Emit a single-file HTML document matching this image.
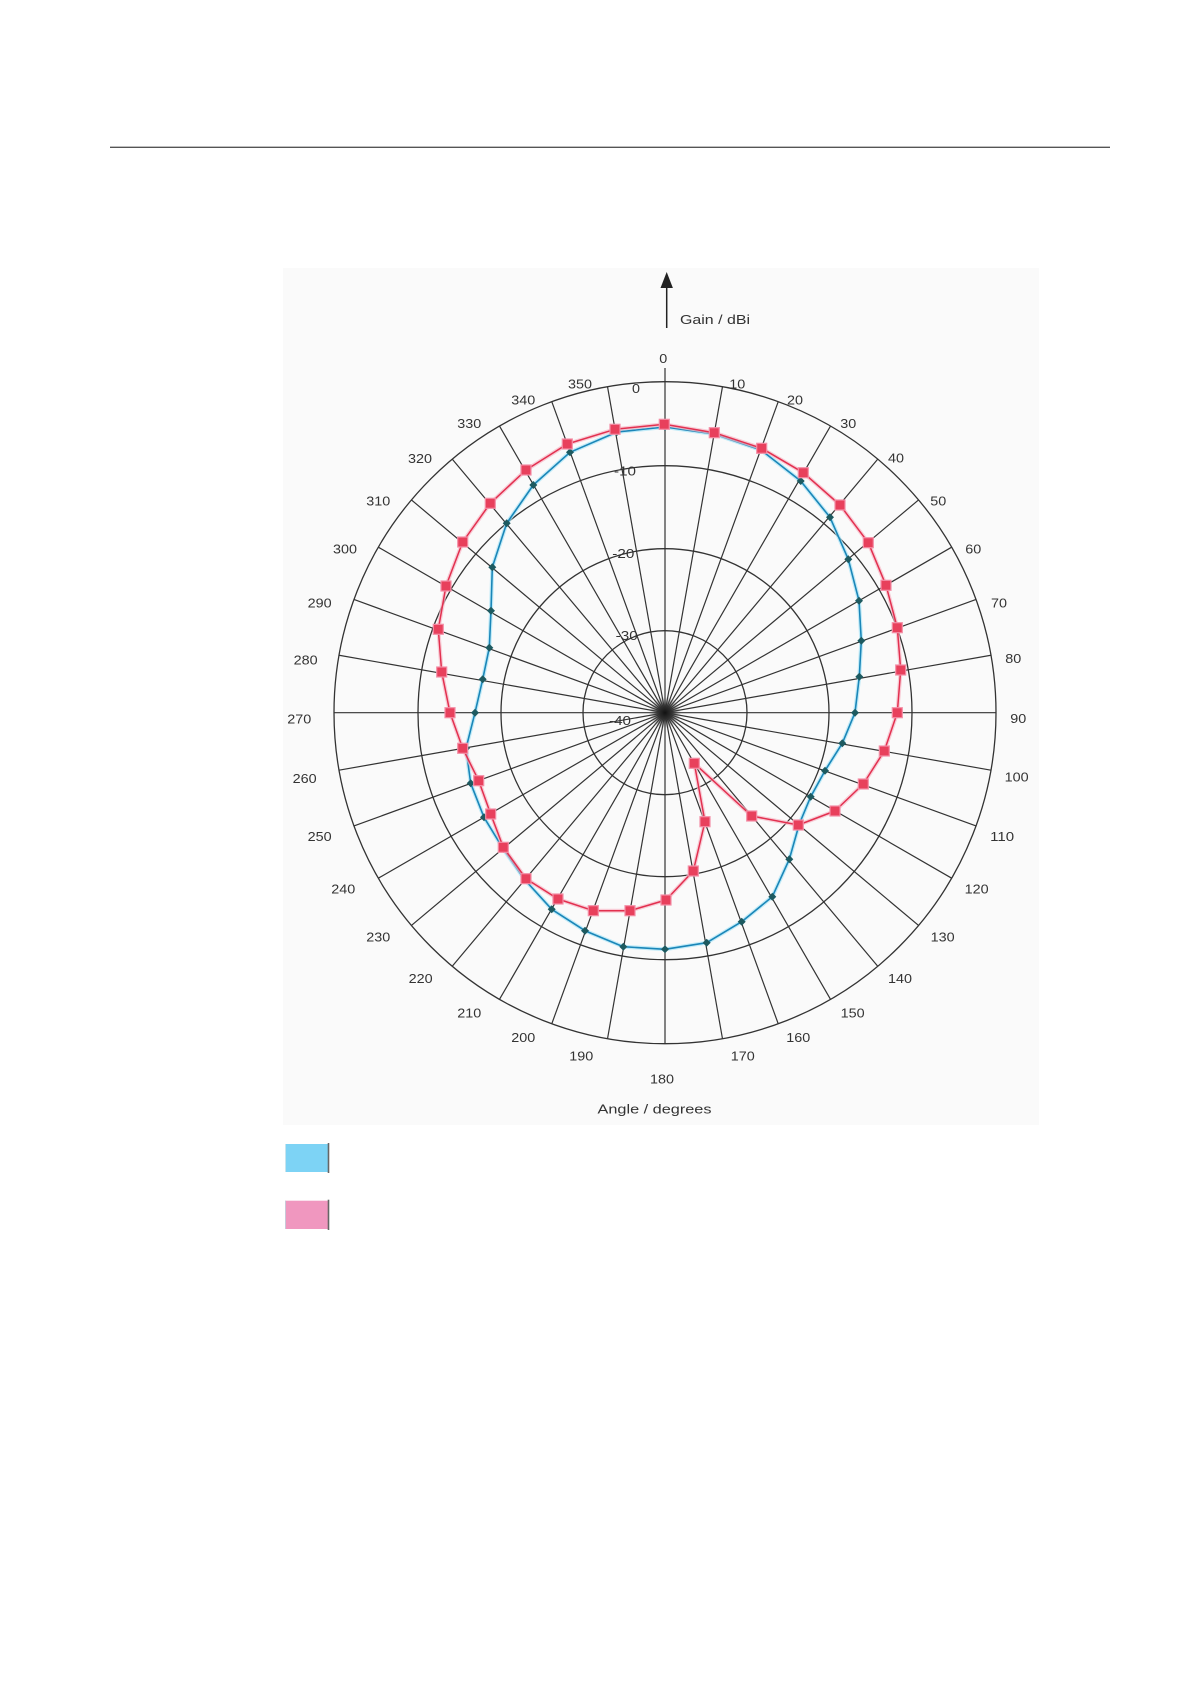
<!DOCTYPE html>
<html>
<head>
<meta charset="utf-8">
<style>
  html,body{margin:0;padding:0;background:#ffffff;}
  body{width:1190px;height:1684px;position:relative;overflow:hidden;}
  svg{position:absolute;left:0;top:0;}
  text{font-family:"Liberation Sans",Arial,sans-serif;fill:#333333;}
</style>
</head>
<body>
<svg width="1190" height="1684" viewBox="0 0 1190 1684" xmlns="http://www.w3.org/2000/svg">
  <defs>
    <radialGradient id="blob" cx="0.5" cy="0.5" r="0.5">
      <stop offset="0" stop-color="#111" stop-opacity="1"/>
      <stop offset="0.5" stop-color="#333" stop-opacity="0.8"/>
      <stop offset="1" stop-color="#666" stop-opacity="0"/>
    </radialGradient>
  </defs>

  <!-- top rule -->
  <line x1="110" y1="147.3" x2="1110" y2="147.3" stroke="#555" stroke-width="1.3"/>

  <!-- faint chart background -->
  <rect x="283" y="268" width="756" height="857" fill="#fafafa"/>

  <!-- rings -->
  <g fill="none" stroke="#333" stroke-width="1.3">
    <circle cx="665" cy="712.7" r="331"/>
    <circle cx="665" cy="712.7" r="247"/>
    <circle cx="665" cy="712.7" r="164"/>
    <circle cx="665" cy="712.7" r="82"/>
  </g>

  <!-- spokes -->
  <g stroke="#333" stroke-width="1.2">
    <line x1="665" y1="368" x2="665" y2="1043.7"/>
    <line x1="665" y1="381.7" x2="665" y2="1043.7" transform="rotate(10 665 712.7)"/>
    <line x1="665" y1="381.7" x2="665" y2="1043.7" transform="rotate(20 665 712.7)"/>
    <line x1="665" y1="381.7" x2="665" y2="1043.7" transform="rotate(30 665 712.7)"/>
    <line x1="665" y1="381.7" x2="665" y2="1043.7" transform="rotate(40 665 712.7)"/>
    <line x1="665" y1="381.7" x2="665" y2="1043.7" transform="rotate(50 665 712.7)"/>
    <line x1="665" y1="381.7" x2="665" y2="1043.7" transform="rotate(60 665 712.7)"/>
    <line x1="665" y1="381.7" x2="665" y2="1043.7" transform="rotate(70 665 712.7)"/>
    <line x1="665" y1="381.7" x2="665" y2="1043.7" transform="rotate(80 665 712.7)"/>
    <line x1="665" y1="381.7" x2="665" y2="1043.7" transform="rotate(90 665 712.7)"/>
    <line x1="665" y1="381.7" x2="665" y2="1043.7" transform="rotate(100 665 712.7)"/>
    <line x1="665" y1="381.7" x2="665" y2="1043.7" transform="rotate(110 665 712.7)"/>
    <line x1="665" y1="381.7" x2="665" y2="1043.7" transform="rotate(120 665 712.7)"/>
    <line x1="665" y1="381.7" x2="665" y2="1043.7" transform="rotate(130 665 712.7)"/>
    <line x1="665" y1="381.7" x2="665" y2="1043.7" transform="rotate(140 665 712.7)"/>
    <line x1="665" y1="381.7" x2="665" y2="1043.7" transform="rotate(150 665 712.7)"/>
    <line x1="665" y1="381.7" x2="665" y2="1043.7" transform="rotate(160 665 712.7)"/>
    <line x1="665" y1="381.7" x2="665" y2="1043.7" transform="rotate(170 665 712.7)"/>
  </g>

  <!-- center blob -->
  <circle cx="665" cy="712.7" r="16" fill="url(#blob)"/>

  <!-- radial dB labels -->
  <g font-size="13" text-anchor="middle">
    <text x="636" y="393" textLength="8" lengthAdjust="spacingAndGlyphs">0</text>
    <text x="625" y="475.5" textLength="22" lengthAdjust="spacingAndGlyphs">-10</text>
    <text x="623.3" y="558" textLength="22" lengthAdjust="spacingAndGlyphs">-20</text>
    <text x="626.7" y="639.8" textLength="22" lengthAdjust="spacingAndGlyphs">-30</text>
    <text x="620" y="724.8" textLength="22" lengthAdjust="spacingAndGlyphs">-40</text>
  </g>

  <!-- angle labels -->
  <g font-size="13" text-anchor="middle">
    <text x="663.3" y="363" textLength="8" lengthAdjust="spacingAndGlyphs">0</text>
    <text x="737.3" y="388.7" textLength="16" lengthAdjust="spacingAndGlyphs">10</text>
    <text x="795" y="404.7" textLength="16" lengthAdjust="spacingAndGlyphs">20</text>
    <text x="848.3" y="428" textLength="16" lengthAdjust="spacingAndGlyphs">30</text>
    <text x="896" y="462.4" textLength="16" lengthAdjust="spacingAndGlyphs">40</text>
    <text x="938.3" y="505.4" textLength="16" lengthAdjust="spacingAndGlyphs">50</text>
    <text x="973.3" y="553.7" textLength="16" lengthAdjust="spacingAndGlyphs">60</text>
    <text x="999" y="607.5" textLength="16" lengthAdjust="spacingAndGlyphs">70</text>
    <text x="1013.3" y="663" textLength="16" lengthAdjust="spacingAndGlyphs">80</text>
    <text x="1018.3" y="723" textLength="16" lengthAdjust="spacingAndGlyphs">90</text>
    <text x="1016.7" y="781.4" textLength="24" lengthAdjust="spacingAndGlyphs">100</text>
    <text x="1002.2" y="841.1" textLength="24" lengthAdjust="spacingAndGlyphs">110</text>
    <text x="976.7" y="893.7" textLength="24" lengthAdjust="spacingAndGlyphs">120</text>
    <text x="942.7" y="941.4" textLength="24" lengthAdjust="spacingAndGlyphs">130</text>
    <text x="900" y="983" textLength="24" lengthAdjust="spacingAndGlyphs">140</text>
    <text x="852.7" y="1017.4" textLength="24" lengthAdjust="spacingAndGlyphs">150</text>
    <text x="798.3" y="1042" textLength="24" lengthAdjust="spacingAndGlyphs">160</text>
    <text x="742.8" y="1060.7" textLength="24" lengthAdjust="spacingAndGlyphs">170</text>
    <text x="662" y="1083.4" textLength="24" lengthAdjust="spacingAndGlyphs">180</text>
    <text x="581.3" y="1060.7" textLength="24" lengthAdjust="spacingAndGlyphs">190</text>
    <text x="523.3" y="1042" textLength="24" lengthAdjust="spacingAndGlyphs">200</text>
    <text x="469.3" y="1017.4" textLength="24" lengthAdjust="spacingAndGlyphs">210</text>
    <text x="420.7" y="983" textLength="24" lengthAdjust="spacingAndGlyphs">220</text>
    <text x="378.3" y="941.4" textLength="24" lengthAdjust="spacingAndGlyphs">230</text>
    <text x="343.3" y="893.7" textLength="24" lengthAdjust="spacingAndGlyphs">240</text>
    <text x="319.7" y="841.1" textLength="24" lengthAdjust="spacingAndGlyphs">250</text>
    <text x="304.6" y="783" textLength="24" lengthAdjust="spacingAndGlyphs">260</text>
    <text x="299.3" y="723.7" textLength="24" lengthAdjust="spacingAndGlyphs">270</text>
    <text x="305.7" y="664.7" textLength="24" lengthAdjust="spacingAndGlyphs">280</text>
    <text x="319.7" y="607.5" textLength="24" lengthAdjust="spacingAndGlyphs">290</text>
    <text x="345" y="553.7" textLength="24" lengthAdjust="spacingAndGlyphs">300</text>
    <text x="378.3" y="505.4" textLength="24" lengthAdjust="spacingAndGlyphs">310</text>
    <text x="420" y="463" textLength="24" lengthAdjust="spacingAndGlyphs">320</text>
    <text x="469.3" y="428" textLength="24" lengthAdjust="spacingAndGlyphs">330</text>
    <text x="523.3" y="404.7" textLength="24" lengthAdjust="spacingAndGlyphs">340</text>
    <text x="580" y="388.7" textLength="24" lengthAdjust="spacingAndGlyphs">350</text>
  </g>

  <!-- axis titles -->
  <line x1="666.7" y1="284" x2="666.7" y2="328" stroke="#222" stroke-width="1.5"/>
  <polygon points="660.5,288 672.9,288 666.7,272" fill="#222"/>
  <text x="680" y="324" font-size="13" textLength="70" lengthAdjust="spacingAndGlyphs">Gain / dBi</text>
  <text x="654.5" y="1113.5" font-size="13" text-anchor="middle" textLength="114" lengthAdjust="spacingAndGlyphs">Angle / degrees</text>

  <!-- teal series -->
  <polygon fill="none" stroke="#a8e4f6" stroke-width="4" stroke-linejoin="round" opacity="0.7"
    points="665,427 714,434 761,450 800.7,481 830,517.3 848.3,559.3 859,600.7 861.3,640.7 859.3,676.7 855,712.7 842.3,743.3 825,770.7 810.7,796.7 799.3,824 789.3,859.3 772.3,896.7 741.7,921.7 706.7,942.7 665,949.3 623.3,946.7 585,930.7 551.7,909.3 525,880 503.3,849 484,817.3 470.7,783.3 466,748.3 475,712.7 482.7,679.3 489.3,647.7 491,610.7 492.3,567.3 506.7,523.3 533.3,485 570,452.3 617,432"/>
  <polygon fill="none" stroke="#1a86b8" stroke-width="1.6" stroke-linejoin="round"
    points="665,427 714,434 761,450 800.7,481 830,517.3 848.3,559.3 859,600.7 861.3,640.7 859.3,676.7 855,712.7 842.3,743.3 825,770.7 810.7,796.7 799.3,824 789.3,859.3 772.3,896.7 741.7,921.7 706.7,942.7 665,949.3 623.3,946.7 585,930.7 551.7,909.3 525,880 503.3,849 484,817.3 470.7,783.3 466,748.3 475,712.7 482.7,679.3 489.3,647.7 491,610.7 492.3,567.3 506.7,523.3 533.3,485 570,452.3 617,432"/>
  <g fill="#1d5a60">
    <polygon points="665,423 669,427 665,431 661,427"/>
    <polygon points="714,430 718,434 714,438 710,434"/>
    <polygon points="761,446 765,450 761,454 757,450"/>
    <polygon points="800.7,477 804.7,481 800.7,485 796.7,481"/>
    <polygon points="830,513.3 834,517.3 830,521.3 826,517.3"/>
    <polygon points="848.3,555.3 852.3,559.3 848.3,563.3 844.3,559.3"/>
    <polygon points="859,596.7 863,600.7 859,604.7 855,600.7"/>
    <polygon points="861.3,636.7 865.3,640.7 861.3,644.7 857.3,640.7"/>
    <polygon points="859.3,672.7 863.3,676.7 859.3,680.7 855.3,676.7"/>
    <polygon points="855,708.7 859,712.7 855,716.7 851,712.7"/>
    <polygon points="842.3,739.3 846.3,743.3 842.3,747.3 838.3,743.3"/>
    <polygon points="825,766.7 829,770.7 825,774.7 821,770.7"/>
    <polygon points="810.7,792.7 814.7,796.7 810.7,800.7 806.7,796.7"/>
    <polygon points="799.3,820 803.3,824 799.3,828 795.3,824"/>
    <polygon points="789.3,855.3 793.3,859.3 789.3,863.3 785.3,859.3"/>
    <polygon points="772.3,892.7 776.3,896.7 772.3,900.7 768.3,896.7"/>
    <polygon points="741.7,917.7 745.7,921.7 741.7,925.7 737.7,921.7"/>
    <polygon points="706.7,938.7 710.7,942.7 706.7,946.7 702.7,942.7"/>
    <polygon points="665,945.3 669,949.3 665,953.3 661,949.3"/>
    <polygon points="623.3,942.7 627.3,946.7 623.3,950.7 619.3,946.7"/>
    <polygon points="585,926.7 589,930.7 585,934.7 581,930.7"/>
    <polygon points="551.7,905.3 555.7,909.3 551.7,913.3 547.7,909.3"/>
    <polygon points="525,876 529,880 525,884 521,880"/>
    <polygon points="503.3,845 507.3,849 503.3,853 499.3,849"/>
    <polygon points="484,813.3 488,817.3 484,821.3 480,817.3"/>
    <polygon points="470.7,779.3 474.7,783.3 470.7,787.3 466.7,783.3"/>
    <polygon points="466,744.3 470,748.3 466,752.3 462,748.3"/>
    <polygon points="475,708.7 479,712.7 475,716.7 471,712.7"/>
    <polygon points="482.7,675.3 486.7,679.3 482.7,683.3 478.7,679.3"/>
    <polygon points="489.3,643.7 493.3,647.7 489.3,651.7 485.3,647.7"/>
    <polygon points="491,606.7 495,610.7 491,614.7 487,610.7"/>
    <polygon points="492.3,563.3 496.3,567.3 492.3,571.3 488.3,567.3"/>
    <polygon points="506.7,519.3 510.7,523.3 506.7,527.3 502.7,523.3"/>
    <polygon points="533.3,481 537.3,485 533.3,489 529.3,485"/>
    <polygon points="570,448.3 574,452.3 570,456.3 566,452.3"/>
    <polygon points="617,428 621,432 617,436 613,432"/>
  </g>

  <!-- pink series -->
  <polygon fill="none" stroke="#f7b8c6" stroke-width="4" stroke-linejoin="round" opacity="0.7"
    points="664.3,424.3 714.3,432.7 761.7,448.3 803.3,472.7 840,505 868.3,542.7 886,585.3 897.3,627.7 900.7,670 897.3,712.7 884.3,751 863.3,784 835,811 798.3,825 751.7,816 694.3,763.3 705,821.7 693.3,871 666,900 630,910.7 593.3,910.7 558,899 526,878.7 503.3,847.3 490.7,814 478.7,780.7 462.7,748.3 450,712.7 441.7,672 438.3,629.3 446,586 462.7,542 490.3,503.3 526,470 567.3,444 615,429.3"/>
  <polygon fill="none" stroke="#e2304f" stroke-width="1.5" stroke-linejoin="round"
    points="664.3,424.3 714.3,432.7 761.7,448.3 803.3,472.7 840,505 868.3,542.7 886,585.3 897.3,627.7 900.7,670 897.3,712.7 884.3,751 863.3,784 835,811 798.3,825 751.7,816 694.3,763.3 705,821.7 693.3,871 666,900 630,910.7 593.3,910.7 558,899 526,878.7 503.3,847.3 490.7,814 478.7,780.7 462.7,748.3 450,712.7 441.7,672 438.3,629.3 446,586 462.7,542 490.3,503.3 526,470 567.3,444 615,429.3"/>
  <g fill="#e8405c" stroke="#f48ea6" stroke-width="1.2">
    <rect x="659.3" y="419.3" width="10" height="10"/>
    <rect x="709.3" y="427.7" width="10" height="10"/>
    <rect x="756.7" y="443.3" width="10" height="10"/>
    <rect x="798.3" y="467.7" width="10" height="10"/>
    <rect x="835" y="500" width="10" height="10"/>
    <rect x="863.3" y="537.7" width="10" height="10"/>
    <rect x="881" y="580.3" width="10" height="10"/>
    <rect x="892.3" y="622.7" width="10" height="10"/>
    <rect x="895.7" y="665" width="10" height="10"/>
    <rect x="892.3" y="707.7" width="10" height="10"/>
    <rect x="879.3" y="746" width="10" height="10"/>
    <rect x="858.3" y="779" width="10" height="10"/>
    <rect x="830" y="806" width="10" height="10"/>
    <rect x="793.3" y="820" width="10" height="10"/>
    <rect x="746.7" y="811" width="10" height="10"/>
    <rect x="689.3" y="758.3" width="10" height="10"/>
    <rect x="700" y="816.7" width="10" height="10"/>
    <rect x="688.3" y="866" width="10" height="10"/>
    <rect x="661" y="895" width="10" height="10"/>
    <rect x="625" y="905.7" width="10" height="10"/>
    <rect x="588.3" y="905.7" width="10" height="10"/>
    <rect x="553" y="894" width="10" height="10"/>
    <rect x="521" y="873.7" width="10" height="10"/>
    <rect x="498.3" y="842.3" width="10" height="10"/>
    <rect x="485.7" y="809" width="10" height="10"/>
    <rect x="473.7" y="775.7" width="10" height="10"/>
    <rect x="457.7" y="743.3" width="10" height="10"/>
    <rect x="445" y="707.7" width="10" height="10"/>
    <rect x="436.7" y="667" width="10" height="10"/>
    <rect x="433.3" y="624.3" width="10" height="10"/>
    <rect x="441" y="581" width="10" height="10"/>
    <rect x="457.7" y="537" width="10" height="10"/>
    <rect x="485.3" y="498.3" width="10" height="10"/>
    <rect x="521" y="465" width="10" height="10"/>
    <rect x="562.3" y="439" width="10" height="10"/>
    <rect x="610" y="424.3" width="10" height="10"/>
  </g>

  <!-- legend swatches -->
  <rect x="285" y="1144" width="43" height="28" fill="#7dd3f5"/>
  <line x1="285.5" y1="1144" x2="285.5" y2="1172" stroke="#c8e4ee" stroke-width="1"/>
  <line x1="328.5" y1="1143" x2="328.5" y2="1173" stroke="#666" stroke-width="1.6"/>
  <rect x="285" y="1200.7" width="43" height="28.3" fill="#f097bf"/>
  <line x1="285.5" y1="1200.7" x2="285.5" y2="1229" stroke="#c8c8d8" stroke-width="1"/>
  <line x1="328.5" y1="1199.7" x2="328.5" y2="1230" stroke="#666" stroke-width="1.6"/>
</svg>
</body>
</html>
